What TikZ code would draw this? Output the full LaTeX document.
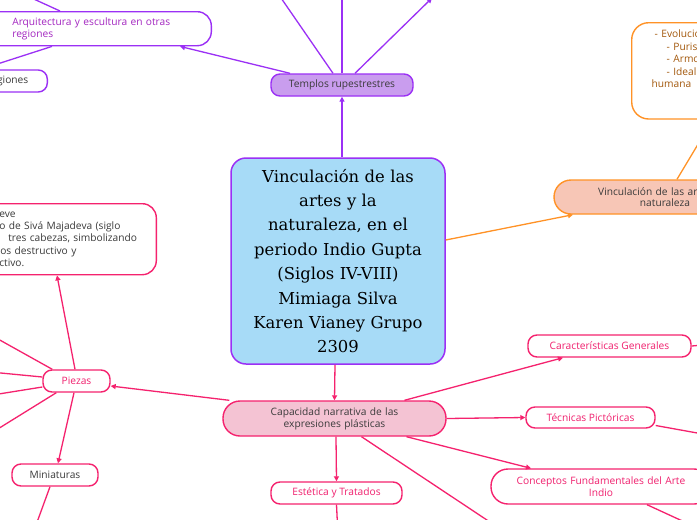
\documentclass[tikz,border=0pt]{standalone}
\usepackage{fontspec}
\setmainfont{Open Sans}
\newfontfamily\titlefont{DejaVu Serif}
\usetikzlibrary{arrows.meta}

\definecolor{mapPurple}{HTML}{9B30F5}
\definecolor{mapPurpleFill}{HTML}{C99DEE}
\definecolor{mapPurpleText}{HTML}{A326C0}
\definecolor{mapBlue}{HTML}{A7DBF7}
\definecolor{mapPink}{HTML}{F5226E}
\definecolor{mapPinkFill}{HTML}{F4C3D3}
\definecolor{mapPinkText}{HTML}{F0206E}
\definecolor{mapOrange}{HTML}{FF9226}
\definecolor{mapOrangeFill}{HTML}{F7C6B6}
\definecolor{mapBrown}{HTML}{A3580C}
\definecolor{mapText}{HTML}{3A3A3A}

\begin{document}
\begin{tikzpicture}[x=1pt, y=-1pt,
    every node/.style={font=\fontsize{10.2}{12}\selectfont, text=mapText, inner sep=0pt},
    purplebox/.style={draw=mapPurple, line width=1.4pt, fill=white, rounded corners=9pt, minimum height=22pt},
    pinkbox/.style={draw=mapPink, line width=1.4pt, fill=white, rounded corners=9pt, minimum height=22pt, text=mapPinkText},
    orangebox/.style={draw=mapOrange, line width=1.4pt, fill=white, rounded corners=17pt},
    purplelink/.style={draw=mapPurple, line width=1.3pt},
    pinklink/.style={draw=mapPink, line width=1.3pt},
    orangelink/.style={draw=mapOrange, line width=1.3pt},
    tip/.style={-{Triangle[length=5pt,width=5pt]}}
  ]
  \useasboundingbox (0,0) rectangle (697,520);
  \clip (0,0) rectangle (697,520);
  \fill[white] (0,0) rectangle (697,520);

  % Off-canvas ends of connectors
  \coordinate (temA) at (270,-18);
  \coordinate (temB) at (342,-12);
  \coordinate (temC) at (432,-2);
  \coordinate (arqA) at (14,-10);
  \coordinate (arqB) at (-12,67);
  \coordinate (pieA) at (-20,329);
  \coordinate (pieB) at (-20,371);
  \coordinate (pieC) at (-20,397);
  \coordinate (pieD) at (-20,440);
  \coordinate (minA) at (32,536);
  \coordinate (estA) at (338,535);
  \coordinate (capA) at (502,530);
  \coordinate (conA) at (702,530);
  \coordinate (tecA) at (725,438);
  \coordinate (carA) at (715,344);

  % Central topic
  \node[draw=mapPurple, line width=1.5pt, fill=mapBlue, rounded corners=15pt,
        minimum width=214pt, minimum height=206pt, text width=204pt, align=center,
        text=black, font=\titlefont\fontsize{16.4}{24.4}\selectfont] (cen) at (338,261)
    {Vinculación de las\\artes y la\\naturaleza, en el\\periodo Indio Gupta\\(Siglos IV-VIII)\\Mimiaga Silva\\Karen Vianey Grupo\\2309};

  % Purple branch
  \node[purplebox, fill=mapPurpleFill, minimum width=142pt] (tem) at (342,85) {Templos rupestrestres};
  \node[purplebox, anchor=north east, minimum height=34pt, rounded corners=14pt,
        text width=252pt, align=left, text=mapPurpleText, font=\fontsize{10.2}{11.3}\selectfont] (arq) at (212,11)
    {\hspace*{53pt}Arquitectura y escultura en otras\\\hspace*{53pt}regiones};
  \node[purplebox, anchor=east, inner xsep=19pt] (reg) at (48,81) {regiones};

  \draw[purplelink, tip] ([xshift=4pt]cen.north) -- (tem.south);
  \draw[purplelink, tip] ([xshift=-52pt]tem.north) -- ([xshift=-32pt]arq.south east);
  \draw[purplelink] ([xshift=-9pt]tem.north) -- (temA);
  \draw[purplelink] (tem.north) -- (temB);
  \draw[purplelink, tip] ([xshift=13pt]tem.north) -- (temC);
  \draw[purplelink] ([xshift=-152pt]arq.north east) -- (arqA);
  \draw[purplelink] ([xshift=-160pt]arq.south east) -- (arqB);

  % Orange branch
  \node[orangebox, fill=mapOrangeFill, minimum width=222pt, minimum height=34pt,
        text width=210pt, align=center, font=\fontsize{10.2}{11.5}\selectfont] (vin) at (665,197)
    {Vinculación de las artes y la\\naturaleza};
  \node[orangebox, anchor=north west, inner xsep=20pt, inner ysep=7pt, text width=122pt,
        text depth=74.5pt, align=left, text=mapBrown, font=\fontsize{10.2}{12.5}\selectfont] (evo) at (631,22)
    {\hspace*{3pt}- Evolución\\\hspace*{15pt}- Purismo\\\hspace*{15pt}- Armonía\\\hspace*{15pt}- Idealización\\humana};

  \draw[orangelink, tip] ([yshift=21pt]cen.east) -- ([xshift=-92pt]vin.south);
  \draw[orangelink] ([xshift=12pt]vin.north) -- (evo.south);

  % Pink branch
  \node[pinkbox, fill=mapPinkFill, minimum width=223pt, minimum height=35pt, rounded corners=17pt,
        text width=210pt, align=center, text=mapText, font=\fontsize{10.2}{11.7}\selectfont] (cap) at (334.5,418.5)
    {Capacidad narrativa de las\\expresiones plásticas};
  \node[pinkbox, minimum width=131pt] (est) at (336.5,493) {Estética y Tratados};
  \node[pinkbox, minimum width=220pt, minimum height=35pt, rounded corners=17pt,
        text width=210pt, align=center] (con) at (601,486.5)
    {Conceptos Fundamentales del Arte\\Indio};
  \node[pinkbox, minimum width=129pt, minimum height=21pt] (tec) at (590.5,417.5) {Técnicas Pictóricas};
  \node[pinkbox, minimum width=163pt] (car) at (609.5,346) {Características Generales};
  \node[pinkbox, minimum width=67pt] (pie) at (76.5,381) {Piezas};
  \node[pinkbox, minimum width=86pt, text=mapText] (min) at (55,475) {Miniaturas};
  \node[pinkbox, anchor=north east, minimum height=71pt, rounded corners=14pt, text=mapText,
        text width=185pt, align=left, font=\fontsize{10.2}{12.3}\selectfont] (siva) at (157,203)
    {\hspace*{28pt}eve\\\hspace*{28pt}o de Sivá Majadeva (siglo\\\hspace*{37pt}tres cabezas, simbolizando\\\hspace*{29pt}os destructivo y\\\hspace*{28pt}ctivo.};

  \draw[pinklink, tip] ([xshift=-3pt]cen.south) -- (cap.north);
  \draw[pinklink, tip] ([xshift=7pt]cap.north west) -- ([yshift=-5pt]pie.east);
  \draw[pinklink, tip] ([xshift=1.5pt]cap.south) -- (est.north);
  \draw[pinklink, tip] ([xshift=72pt]cap.south) -- ([xshift=-70pt]con.north);
  \draw[pinklink, tip] (cap.east) -- (tec.west);
  \draw[pinklink, tip] ([xshift=70pt]cap.north) -- ([xshift=-46.5pt]car.south);
  \draw[pinklink] ([xshift=27pt]cap.south) -- (capA);
  \draw[pinklink] (est.south) -- (estA);
  \draw[pinklink] ([xshift=46pt]con.south) -- (conA);
  \draw[pinklink] ([yshift=-8pt]tec.east) -- (tecA);
  \draw[pinklink] (car.east) -- (carA);

  \draw[pinklink, tip] ([xshift=-1.5pt]pie.north) -- ([xshift=-100pt]siva.south east);
  \draw[pinklink, tip] ([xshift=-2.5pt]pie.south) -- ([xshift=3pt]min.north);
  \draw[pinklink] ([xshift=10pt]pie.north west) -- (pieA);
  \draw[pinklink] ([yshift=4pt]pie.west) -- (pieB);
  \draw[pinklink] ([yshift=-6pt]pie.west) -- (pieC);
  \draw[pinklink] ([xshift=14pt]pie.south west) -- (pieD);
  \draw[pinklink] ([xshift=-5pt]min.south) -- (minA);
\end{tikzpicture}
\end{document}
